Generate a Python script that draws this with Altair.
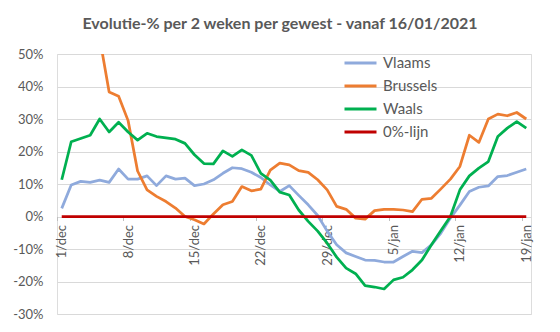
import altair as alt
import pandas as pd

days = list(range(50))  # 1/dec .. 19/jan
tick_labels = ["1/dec", "8/dec", "15/dec", "22/dec", "29/dec", "5/jan", "12/jan", "19/jan"]

vlaams = [2.5, 9.7, 10.8, 10.5, 11.2, 10.5, 14.6, 11.5, 11.5, 12.5,
          9.5, 12.5, 11.5, 11.8, 9.5, 10.0, 11.3, 13.3, 15.0, 14.7,
          13.6, 12.0, 9.7, 7.7, 9.5, 6.5, 3.6, 0.3, -4.5, -8.7,
          -11.2, -12.3, -13.4, -13.5, -14.0, -14.0, -12.3, -10.7, -11.1, -8.7,
          -5.1, -0.5, 3.5, 7.7, 9.0, 9.4, 12.3, 12.6, 13.6, 14.6]
brussels = [90.0, 80.0, 72.0, 63.0, 55.0, 38.3, 37.0, 29.5, 14.0, 8.2,
            6.2, 4.6, 2.6, 0.0, -1.0, -2.3, 0.8, 3.6, 4.6, 9.2,
            7.9, 8.4, 14.3, 16.4, 15.9, 14.1, 13.6, 11.3, 8.2, 3.1,
            2.2, -0.5, -0.8, 1.8, 2.2, 2.2, 2.0, 1.5, 5.3, 5.6,
            8.5, 11.5, 15.4, 25.0, 22.8, 30.0, 31.5, 31.0, 32.0, 30.0]
waals = [11.3, 23.0, 24.0, 25.0, 30.0, 26.0, 29.0, 26.0, 23.5, 25.6,
         24.6, 24.2, 23.8, 22.5, 19.0, 16.3, 16.2, 20.2, 18.5, 20.5,
         18.8, 13.3, 11.2, 7.5, 6.6, 2.0, -1.5, -4.5, -8.2, -12.5,
         -15.9, -17.6, -21.3, -21.7, -22.3, -19.5, -18.7, -16.4, -13.4, -8.7,
         -4.3, 0.0, 8.2, 12.5, 14.9, 16.9, 24.6, 27.2, 29.2, 27.2]
nul_lijn = [0.0] * 50

series_names = ["Vlaams", "Brussels", "Waals", "0%-lijn"]
series_colors = ["#8faadc", "#ed7d31", "#00b050", "#c00000"]

rows = []
for name, vals in zip(series_names, [vlaams, brussels, waals, nul_lijn]):
    for d, v in zip(days, vals):
        rows.append({"dag": d, "waarde": v, "reeks": name})
df = pd.DataFrame(rows)

label_expr = "[" + ",".join("'" + t + "'" for t in tick_labels) + "][round(datum.value / 7)]"

FONT = "Lato"
GREY = "#595959"

chart = alt.Chart(df).mark_line(clip=True, strokeWidth=2.75, strokeJoin="round").encode(
    x=alt.X("dag:Q",
            scale=alt.Scale(domain=[-0.5, 49.5], nice=False, zero=False),
            axis=alt.Axis(values=[0, 7, 14, 21, 28, 35, 42, 49], labelExpr=label_expr,
                          title=None, grid=False, domain=False,
                          labelAngle=270, labelAlign="right", labelBaseline="middle",
                          labelFont=FONT, labelFontSize=13, labelColor=GREY,
                          tickColor="#bfbfbf", tickSize=4, tickWidth=1,
                          tickOffset=-4.74, labelOffset=4.74, labelPadding=4,
                          offset=-97.5)),
    y=alt.Y("waarde:Q",
            scale=alt.Scale(domain=[-30, 50], nice=False),
            axis=alt.Axis(values=[-30, -20, -10, 0, 10, 20, 30, 40, 50],
                          labelExpr="datum.value + '%'", title=None,
                          grid=True, gridColor="#d9d9d9", gridWidth=1,
                          domain=False, ticks=False, labelPadding=14,
                          labelFont=FONT, labelFontSize=13, labelColor=GREY)),
    color=alt.Color("reeks:N",
                    scale=alt.Scale(domain=series_names, range=series_colors),
                    legend=alt.Legend(title=None, orient="none", legendX=286, legendY=1,
                                      symbolType="stroke", symbolSize=1024, symbolStrokeWidth=3,
                                      labelFont=FONT, labelFontSize=15, labelColor=GREY,
                                      labelOffset=5, clipHeight=16, rowPadding=7,
                                      padding=0)),
).properties(
    width=474,
    height=260,
    title=alt.TitleParams("Evolutie-% per 2 weken per gewest - vanaf 16/01/2021",
                          font=FONT, fontSize=16, fontWeight="bold", color=GREY,
                          anchor="middle", dx=-14, offset=16),
    autosize=alt.AutoSizeParams(type="none"),
    padding={"left": 57, "top": 54, "right": 29, "bottom": 18},
).configure_view(stroke=None).configure(background="white")

chart.save("out.html", embed_options={"renderer": "svg", "actions": False})
